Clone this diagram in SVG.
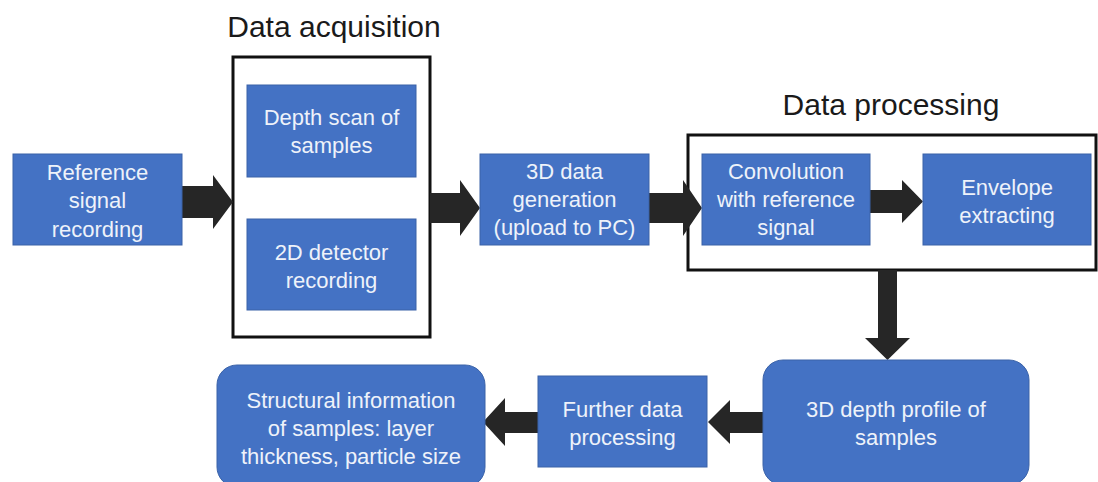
<svg xmlns="http://www.w3.org/2000/svg" width="1098" height="482" viewBox="0 0 1098 482">
  <defs>
    <style>
      .box { fill: #4472c4; stroke: #3a62a8; stroke-width: 1; }
      .frame { fill: none; stroke: #111111; stroke-width: 3; }
      .label { font-family: "Liberation Sans", Arial, sans-serif; font-size: 22px; fill: #eef2fa; text-anchor: middle; }
      .title { font-family: "Liberation Sans", Arial, sans-serif; font-size: 30px; fill: #1a1a1a; text-anchor: middle; }
      .arrow { fill: #262626; }
    </style>
  </defs>
  <rect width="1098" height="482" fill="#ffffff"/>

  <!-- group frames and their headings -->
  <g id="acquisition-group">
    <text class="title" x="334" y="37">Data acquisition</text>
    <rect class="frame" x="233" y="57" width="197" height="280"/>
  </g>
  <g id="processing-group">
    <text class="title" x="891" y="115">Data processing</text>
    <rect class="frame" x="688" y="135" width="408" height="135"/>
  </g>

  <!-- block arrows -->
  <g id="connectors">
    <polygon class="arrow" points="182,186 213,186 213,175 233,202 213,229 213,218 182,218"/>
    <polygon class="arrow" points="430,193 460,193 460,180 480,208 460,236 460,223 430,223"/>
    <polygon class="arrow" points="649,193 683,193 683,180 702,208 683,236 683,223 649,223"/>
    <polygon class="arrow" points="870,190 902,190 902,180 923,201.5 902,223 902,213 870,213"/>
    <polygon class="arrow" points="878,270 897,270 897,338 910,338 887.5,360 865,338 878,338"/>
    <polygon class="arrow" points="763,412 730,412 730,400 708,422 730,444 730,433 763,433"/>
    <polygon class="arrow" points="538,412 505,412 505,398 483,422 505,446 505,433 538,433"/>
  </g>

  <g id="reference-signal">
    <rect class="box" x="13" y="154" width="169" height="91"/>
    <text class="label" x="97.5" y="180">Reference</text>
    <text class="label" x="97.5" y="208">signal</text>
    <text class="label" x="97.5" y="237">recording</text>
  </g>

  <g id="depth-scan">
    <rect class="box" x="247" y="85" width="169" height="92"/>
    <text class="label" x="331.5" y="125">Depth scan of</text>
    <text class="label" x="331.5" y="153">samples</text>
  </g>

  <g id="detector-recording">
    <rect class="box" x="247" y="219" width="169" height="91"/>
    <text class="label" x="331.5" y="260">2D detector</text>
    <text class="label" x="331.5" y="288">recording</text>
  </g>

  <g id="data-generation">
    <rect class="box" x="480" y="154" width="169" height="91"/>
    <text class="label" x="564.5" y="179">3D data</text>
    <text class="label" x="564.5" y="207">generation</text>
    <text class="label" x="564.5" y="235">(upload to PC)</text>
  </g>

  <g id="convolution">
    <rect class="box" x="702" y="154" width="168" height="91"/>
    <text class="label" x="786" y="179">Convolution</text>
    <text class="label" x="786" y="207">with reference</text>
    <text class="label" x="786" y="235">signal</text>
  </g>

  <g id="envelope">
    <rect class="box" x="923" y="154" width="168" height="91"/>
    <text class="label" x="1007" y="195">Envelope</text>
    <text class="label" x="1007" y="223">extracting</text>
  </g>

  <g id="depth-profile">
    <rect class="box" x="763" y="360" width="266" height="125" rx="20" ry="20"/>
    <text class="label" x="896" y="417">3D depth profile of</text>
    <text class="label" x="896" y="445">samples</text>
  </g>

  <g id="further-processing">
    <rect class="box" x="538" y="376" width="169" height="91"/>
    <text class="label" x="622.5" y="417">Further data</text>
    <text class="label" x="622.5" y="445">processing</text>
  </g>

  <g id="structural-info">
    <rect class="box" x="217" y="365" width="268" height="122" rx="20" ry="20"/>
    <text class="label" x="351" y="408">Structural information</text>
    <text class="label" x="351" y="436">of samples: layer</text>
    <text class="label" x="351" y="464">thickness, particle size</text>
  </g>
</svg>
